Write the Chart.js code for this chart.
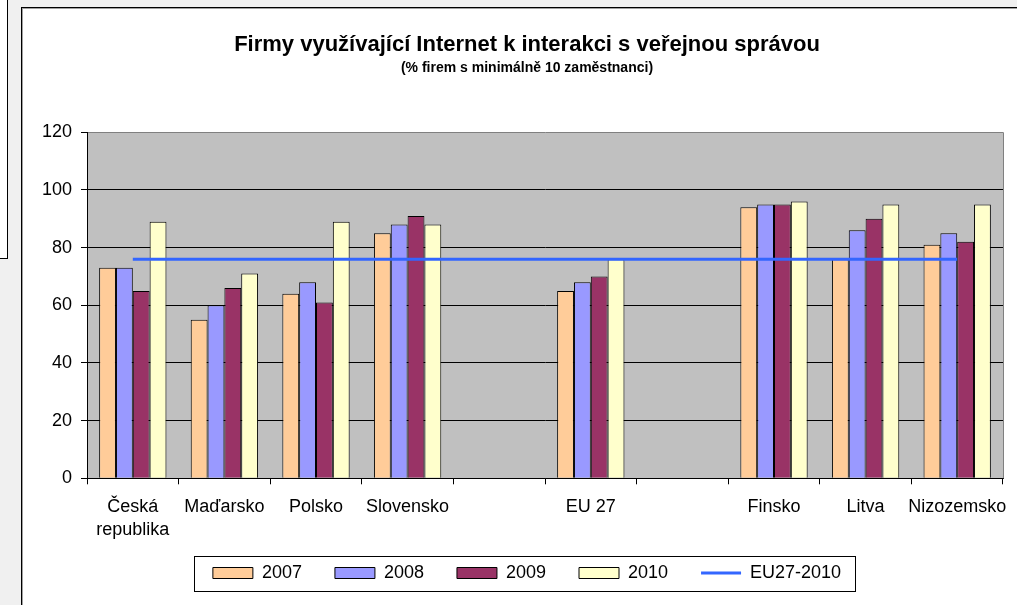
<!DOCTYPE html>
<html>
<head>
<meta charset="utf-8">
<script src="https://cdn.jsdelivr.net/npm/chart.js@4/dist/chart.umd.min.js"></script>
<style>
  html, body { margin: 0; padding: 0; background: #f0f0f0; overflow: hidden; width: 1017px; height: 605px; }
  #leftbox { position: absolute; left: 0; top: 0; width: 7px; height: 258px; background: #fff;
             border-right: 1px solid #000; border-bottom: 1px solid #000; }
  #frame { position: absolute; left: 21px; top: 7px; width: 1100px; height: 700px;
           border-left: 1px solid #000; border-top: 1px solid #000; }
  #inner { width: 100%; height: 100%; background: #fff;
           border-left: 1px solid #a0a0a0; border-top: 1px solid #a0a0a0; }
  #chartbox { position: absolute; left: 23px; top: 9px; }
</style>
</head>
<body>
<div id="leftbox"></div>
<div id="frame"><div id="inner"></div></div>
<div id="chartbox"><canvas id="chart" width="1008" height="596"></canvas></div>
<script>
var categories = [['Česká', 'republika'], 'Maďarsko', 'Polsko', 'Slovensko', '', 'EU 27', '', 'Finsko', 'Litva', 'Nizozemsko'];
var v2007 = [73, 55, 64, 85, null, 65, null, 94, 76, 81];
var v2008 = [73, 60, 68, 88, null, 68, null, 95, 86, 85];
var v2009 = [65, 66, 61, 91, null, 70, null, 95, 90, 82];
var v2010 = [89, 71, 89, 88, null, 76, null, 96, 95, 95];
var eu27_2010 = [76, 76, 76, 76, 76, 76, 76, 76, 76, 76];
var yTicks = [0, 20, 40, 60, 80, 100, 120];

Chart.defaults.font.family = '"Liberation Sans", Arial, sans-serif';
Chart.defaults.color = '#000';

// grey plot area with a grey right edge
var plotBg = {
    id: 'plotBg',
    afterLayout: function(chart) {
        // let the tick labels spill out of their boxes instead of being clipped
        chart.scales.y.left = 0;
        chart.scales.x.bottom = chart.height;
    },
    beforeDraw: function(chart) {
        var a = chart.chartArea, c = chart.ctx;
        c.save();
        c.fillStyle = '#c0c0c0';
        c.fillRect(a.left, a.top, a.right - a.left, a.bottom - a.top);
        c.restore();
    },
    beforeDatasetsDraw: function(chart) {
        var a = chart.chartArea, c = chart.ctx;
        c.save();
        c.strokeStyle = '#808080';
        c.lineWidth = 1;
        c.beginPath();
        c.moveTo(Math.round(a.right) + 0.5, a.top);
        c.lineTo(Math.round(a.right) + 0.5, a.bottom);
        c.stroke();
        c.restore();
    }
};

// frame round the legend
var legendFrame = {
    id: 'legendFrame',
    afterDraw: function(chart) {
        var hb = chart.legend.legendHitBoxes;
        if (!hb || !hb.length) return;
        var last = hb[hb.length - 1];
        var left = Math.round(hb[0].left - 19) + 0.5;
        var right = Math.round(last.left + last.width + 14) + 0.5;
        var cy = hb[0].top + hb[0].height / 2;
        var top = Math.round(cy - 17) + 0.5;
        var bottom = Math.round(cy + 18) + 0.5;
        var c = chart.ctx;
        c.save();
        c.strokeStyle = '#000';
        c.lineWidth = 1;
        c.strokeRect(left, top, right - left, bottom - top);
        c.restore();
    }
};

function bar(label, data, color) {
    return {
        label: label,
        data: data,
        backgroundColor: color,
        borderColor: '#000',
        borderWidth: 1,
        barPercentage: 1,
        categoryPercentage: 0.735
    };
}

var ctx = document.getElementById('chart').getContext('2d');
var chart = new Chart(ctx, {
    type: 'bar',
    data: {
        labels: categories,
        datasets: [
            bar('2007', v2007, '#ffcc99'),
            bar('2008', v2008, '#9999ff'),
            bar('2009', v2009, '#993366'),
            bar('2010', v2010, '#ffffcc'),
            {
                type: 'line',
                label: 'EU27-2010',
                data: eu27_2010,
                borderColor: '#3366ff',
                backgroundColor: '#3366ff',
                borderWidth: 3,
                pointRadius: 0,
                order: -1
            }
        ]
    },
    options: {
        responsive: false,
        animation: false,
        layout: { padding: { left: 28, right: 28, top: 0, bottom: 13 } },
        plugins: {
            title: {
                display: true,
                text: 'Firmy využívající Internet k interakci s veřejnou správou',
                font: { size: 22, weight: 'bold' },
                color: '#000',
                padding: { top: 22.8, bottom: 0 }
            },
            subtitle: {
                display: true,
                text: '(% firem s minimálně 10 zaměstnanci)',
                font: { size: 14, weight: 'bold' },
                color: '#000',
                padding: { top: 1.4, bottom: 55.9 }
            },
            legend: {
                position: 'bottom',
                labels: {
                    usePointStyle: true,
                    pointStyleWidth: 40,
                    boxWidth: 40,
                    boxHeight: 11,
                    padding: 33,
                    font: { size: 18 },
                    color: '#000',
                    sort: function(a, b) { return a.datasetIndex - b.datasetIndex; },
                    generateLabels: function(chart) {
                        var items = Chart.defaults.plugins.legend.labels.generateLabels(chart);
                        items.forEach(function(it) {
                            var ds = chart.data.datasets[it.datasetIndex];
                            it.pointStyle = ds.type === 'line' ? 'line' : 'rect';
                            if (ds.type === 'line') { it.lineWidth = 3; it.strokeStyle = '#3366ff'; }
                        });
                        return items;
                    }
                }
            },
            tooltip: { enabled: false }
        },
        scales: {
            x: {
                grid: { drawOnChartArea: false, drawTicks: true, tickLength: 6, color: '#000' },
                border: { color: '#000', width: 1 },
                ticks: {
                    autoSkip: false,
                    maxRotation: 0,
                    padding: 11,
                    font: { size: 18, lineHeight: 1.3 },
                    color: '#000'
                },
                afterFit: function(s) { s.height = 52.7; }
            },
            y: {
                min: 0,
                max: 120,
                afterBuildTicks: function(s) { s.ticks = yTicks.map(function(v) { return { value: v }; }); },
                grid: {
                    color: function(c) { return c.tick && c.tick.value === 120 ? '#808080' : '#000'; },
                    tickColor: '#000',
                    tickLength: 6
                },
                border: { color: '#000', width: 1 },
                ticks: { padding: 9, font: { size: 18 }, color: '#000' },
                afterFit: function(s) { s.width = 36; }
            }
        }
    },
    plugins: [plotBg, legendFrame]
});
</script>
</body>
</html>
